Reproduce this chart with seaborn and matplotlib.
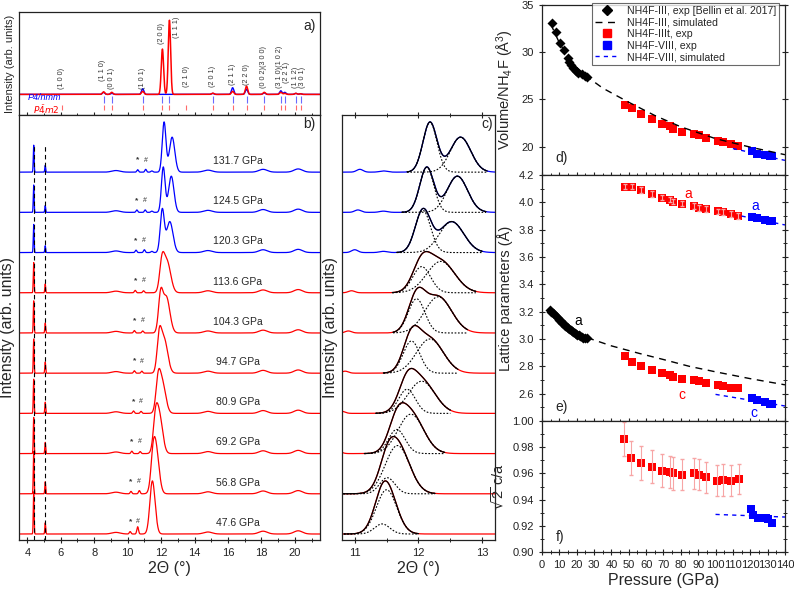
import numpy as np
import matplotlib
matplotlib.use("Agg")
import matplotlib.pyplot as plt
import matplotlib.ticker as mticker
from matplotlib.lines import Line2D
import seaborn as sns

RED = "#ff0000"
BLUE = "#0000ff"

# ---- panel a: simulated patterns + reflections ----
A_POS    = [6.07, 8.56, 9.05, 10.9, 12.08, 12.5, 13.5, 15.09, 16.28, 17.11, 18.17, 19.16, 19.4, 20.06, 20.34]
A_RED_H  = [0.0, 0.025, 0.02, 0.03, 0.44, 0.72, 0.0, 0.012, 0.03, 0.08, 0.02, 0.02, 0.01, 0.01, 0.006]
A_BLUE_H = [0.0, 0.02, 0.01, 0.055, 0.0, 0.0, 0.0, 0.01, 0.065, 0.05, 0.015, 0.035, 0.02, 0.01, 0.006]
A_IN_NMM = [False, True, True, True, True, True, False, True, True, True, True, True, True, True, True]
HKL_TEXT = ["(1 0 0)", "(1 1 0)", "(0 0 1)", "(1 0 1)", "(2 0 0)", "(1 1 1)", "(2 1 0)", "(2 0 1)",
            "(2 1 1)", "(2 2 0)", "(0 0 2)(3 0 0)", "(3 1 0)(1 0 2)", "(2 2 1)", "(1 1 2)", "(3 0 1)"]
HKL_X    = [6.07, 8.5, 9.05, 10.9, 12.05, 12.9, 13.53, 15.09, 16.28, 17.11, 18.13, 19.1, 19.5, 20.06, 20.45]
HKL_Y    = [0.25, 0.33, 0.25, 0.25, 0.69, 0.75, 0.27, 0.27, 0.29, 0.29, 0.26, 0.26, 0.31, 0.26, 0.26]

# ---- panels b/c: measured patterns ----
PRESSURES = [47.6, 56.8, 69.2, 80.9, 94.7, 104.3, 113.6, 120.3, 124.5, 131.7]
PEAK1_POS = [11.43, 11.51, 11.66, 11.82, 11.89, 11.97, 12.05, 12.07, 12.13, 12.18]
PEAK1_H   = [0.25, 0.40, 0.60, 0.60, 0.80, 0.85, 0.65, 1.05, 1.12, 1.24]
PEAK1_W   = [0.12, 0.12, 0.13, 0.13, 0.13, 0.13, 0.14, 0.12, 0.11, 0.11]
PEAK2_POS = [11.50, 11.67, 11.88, 12.05, 12.18, 12.31, 12.35, 12.52, 12.61, 12.66]
PEAK2_H   = [1.10, 1.20, 0.98, 0.80, 0.85, 0.90, 0.78, 0.77, 0.90, 0.87]
PEAK2_W   = [0.16, 0.19, 0.20, 0.21, 0.21, 0.21, 0.22, 0.19, 0.16, 0.16]
FIT_LO    = [10.83, 10.82, 11.15, 11.33, 11.45, 11.60, 11.59, 11.66, 11.74, 11.82]
FIT_HI    = [12.00, 12.26, 12.41, 12.50, 12.62, 12.77, 12.90, 13.00, 13.06, 13.08]
STAR_POS  = [10.15, 10.20, 10.25, 10.35, 10.40, 10.40, 10.45, 10.50, 10.55, 10.60]
HASH_POS  = [10.60, 10.70, 10.75, 10.80, 10.85, 10.90, 10.95, 11.00, 11.05, 11.08]
HASH_H    = [0.18, 0.08, 0.05, 0.05, 0.05, 0.05, 0.05, 0.07, 0.06, 0.07]
SHARP_POS = [4.38, 5.07]
SHARP1_H  = [1.05, 1.05, 0.90, 0.85, 0.85, 0.80, 0.75, 0.70, 0.68, 0.67]
SHARP2_H  = [0.28, 0.30, 0.28, 0.28, 0.28, 0.25, 0.22, 0.17, 0.17, 0.17]
BUMP_POS  = [9.3, 11.45, 14.8, 18.1, 20.2]
BUMP_H    = [0.04, 0.03, 0.05, 0.07, 0.08]
BUMP_W    = [0.25, 0.06, 0.25, 0.25, 0.25]

# ---- panel d: volume ----
III_P   = [5.6, 8.1, 10.4, 12.7, 14.8, 15.7, 16.7, 18.0, 19.6, 20.9, 22.9, 24.8, 25.7]
III_V   = [33.1, 32.1, 30.95, 30.2, 29.4, 29.0, 28.7, 28.3, 28.0, 27.8, 27.7, 27.5, 27.4]
III_SIM_P = [5, 10, 15, 20, 26, 35, 50, 65, 80, 100, 120, 140]
III_SIM_V = [33.0, 31.0, 29.5, 28.4, 27.4, 26.2, 24.7, 23.3, 22.1, 20.85, 19.95, 19.15]
IIIT_P  = [47.8, 51.7, 56.8, 63.5, 69.3, 73.7, 75.7, 80.9, 87.8, 90.7, 94.5, 101.2, 104.1, 108.9, 113.1]
IIIT_V  = [24.44, 24.1, 23.5, 22.9, 22.4, 22.15, 21.9, 21.6, 21.35, 21.2, 20.9, 20.6, 20.45, 20.3, 20.1]
VIII_P  = [120.8, 123.7, 128.5, 131.3, 132.3]
VIII_V  = [19.5, 19.25, 19.15, 19.05, 19.0]
VIII_SIM_P = [110, 120, 130, 140]
VIII_SIM_V = [19.8, 19.4, 18.95, 18.55]

# ---- panel e: lattice parameters ----
III_A_P = [4.6, 5.4, 6.2, 7.0, 8.1, 9.0, 10.0, 10.8, 11.7, 12.6, 13.5, 14.3, 15.0, 15.7,
           16.5, 17.3, 18.0, 18.8, 19.6, 20.4, 21.2, 22.0, 22.9, 23.7, 24.8, 25.7]
III_A   = [3.21, 3.20, 3.19, 3.18, 3.165, 3.152, 3.14, 3.13, 3.118, 3.108, 3.097, 3.09, 3.083, 3.076,
           3.068, 3.06, 3.053, 3.046, 3.038, 3.032, 3.026, 3.02, 3.015, 3.01, 3.006, 3.004]
III_SIM_A_P = [26, 40, 56, 70, 85, 100, 120, 140]
III_SIM_A   = [3.01, 2.95, 2.895, 2.85, 2.80, 2.76, 2.71, 2.665]
IIIT_A  = [4.115, 4.115, 4.09, 4.06, 4.035, 4.02, 4.005, 3.99, 3.975, 3.96, 3.95, 3.935, 3.93, 3.915, 3.90]
IIIT_C  = [2.873, 2.83, 2.80, 2.775, 2.75, 2.735, 2.72, 2.71, 2.70, 2.69, 2.68, 2.665, 2.655, 2.645, 2.64]
VIII_A  = [3.89, 3.885, 3.87, 3.865, 3.865]
VIII_C  = [2.569, 2.552, 2.537, 2.527, 2.525]
VIII_SIM_A_P = [115, 140]
VIII_SIM_A   = [3.90, 3.835]
VIII_SIM_C_P = [100, 140]
VIII_SIM_C   = [2.595, 2.51]

# ---- panel f: sqrt(2) c/a ----
IIIT_R_P = [47.4, 51.3, 56.8, 63.5, 69.3, 73.7, 75.7, 80.8, 87.6, 90.6, 94.5, 100.6, 104.1, 108.9, 113.4]
IIIT_R   = [0.986, 0.9715, 0.9677, 0.965, 0.962, 0.961, 0.960, 0.959, 0.960, 0.959, 0.957, 0.9545, 0.955, 0.9545, 0.9555]
IIIT_R_ERR = [0.013, 0.013, 0.013, 0.0125, 0.0125, 0.0125, 0.0125, 0.012, 0.012, 0.012, 0.012, 0.012, 0.012, 0.012, 0.0115]
VIII_R_P = [120.2, 121.7, 124.2, 128.8, 130.3, 132.8]
VIII_R   = [0.9328, 0.928, 0.926, 0.926, 0.9255, 0.922]
VIII_SIM_R_P = [100, 140]
VIII_SIM_R   = [0.9287, 0.9267]


def gauss(x, pos, h, w):
    return h * np.exp(-0.5 * ((x - pos) / w) ** 2)


def pattern(x, i, blue):
    y = np.zeros_like(x)
    y += gauss(x, SHARP_POS[0], SHARP1_H[i], 0.025)
    y += gauss(x, SHARP_POS[1], SHARP2_H[i], 0.025)
    y += gauss(x, STAR_POS[i], 0.06, 0.05)
    y += gauss(x, HASH_POS[i], HASH_H[i], 0.05)
    for bp, bh, bw in zip(BUMP_POS, BUMP_H, BUMP_W):
        if bw < 0.1 and not blue:
            continue
        y += gauss(x, bp, bh, bw)
    y += gauss(x, PEAK1_POS[i], PEAK1_H[i], PEAK1_W[i])
    y += gauss(x, PEAK2_POS[i], PEAK2_H[i], PEAK2_W[i])
    return y


sns.set_style("ticks")
plt.rcParams["font.family"] = ["Liberation Sans", "DejaVu Sans"]
plt.rcParams["mathtext.default"] = "regular"
plt.rcParams["axes.linewidth"] = 0.9

fig = plt.figure(figsize=(7.94, 5.90), dpi=100)
ax_a = fig.add_axes([0.0239, 0.8051, 0.379, 0.1746])
ax_b = fig.add_axes([0.0239, 0.0847, 0.379, 0.7203])
ax_c = fig.add_axes([0.4307, 0.0847, 0.1927, 0.7203])
ax_d = fig.add_axes([0.6826, 0.7034, 0.306, 0.2881])
ax_e = fig.add_axes([0.6826, 0.2864, 0.306, 0.4169])
ax_f = fig.add_axes([0.6826, 0.0644, 0.306, 0.222])

for ax in fig.axes:
    for s in ax.spines.values():
        s.set_color("#222222")
    ax.tick_params(which="major", direction="inout", length=5, width=0.8, labelsize=8, colors="#222222")
    ax.tick_params(which="minor", direction="inout", length=3, width=0.7)

# ---------- a ----------
xa = np.linspace(3.5, 21.5, 4000)
base_a = 0.2
y_red = base_a + sum(gauss(xa, p, h, 0.07) for p, h in zip(A_POS, A_RED_H))
y_blue = base_a + sum(gauss(xa, p, h, 0.07) for p, h in zip(A_POS, A_BLUE_H))
ax_a.plot(xa, y_blue, color=BLUE, lw=1.0)
ax_a.plot(xa, y_red, color=RED, lw=1.1)
nmm_pos = [p for p, keep in zip(A_POS, A_IN_NMM) if keep]
ax_a.vlines(nmm_pos, 0.12, 0.18, color="#6a6aff", lw=0.8)
ax_a.vlines(A_POS, 0.05, 0.10, color="#ff6a6a", lw=0.8)
for txt, x, y in zip(HKL_TEXT, HKL_X, HKL_Y):
    ax_a.text(x, y, txt, rotation=90, ha="center", va="bottom", fontsize=5.2, color="#333333")
ax_a.text(4.05, 0.165, "P4/nmm", color=BLUE, style="italic", fontsize=6.5, va="center")
ax_a.text(4.35, 0.055, r"$\mathit{P}\bar{\mathit{4}}\mathit{m2}$", color=RED, fontsize=6.5, va="center")
ax_a.text(0.985, 0.93, "a)", transform=ax_a.transAxes, ha="right", va="top", fontsize=10)
ax_a.set_xlim(3.5, 21.5)
ax_a.set_ylim(0, 1)
ax_a.set_yticks([])
ax_a.xaxis.set_major_locator(mticker.MultipleLocator(2))
ax_a.xaxis.set_minor_locator(mticker.MultipleLocator(1))
ax_a.tick_params(axis="x", labelbottom=False)
ax_a.set_ylabel("Intensity (arb. units)", fontsize=8, labelpad=3)

# ---------- b ----------
xb = np.linspace(3.5, 21.5, 6000)
for i, p in enumerate(PRESSURES):
    base = 0.15 + i * 1.0
    blue = p > 115
    color = BLUE if blue else RED
    ax_b.plot(xb, base + pattern(xb, i, blue), color=color, lw=0.9)
    ax_b.text(16.6, base + 0.28, f"{p:.1f} GPa", ha="center", va="center", fontsize=7.5)
    ax_b.text(STAR_POS[i], base + 0.3, "*", ha="center", va="center", fontsize=6, fontweight="bold", color="#333333")
    ax_b.text(HASH_POS[i], base + 0.3, "#", ha="center", va="center", fontsize=5, color="#333333")
ax_b.vlines(SHARP_POS, 0, 9.8, colors="k", linestyles=(0, (4, 3)), lw=0.8)
ax_b.set_xlim(3.5, 21.5)
ax_b.set_ylim(0, 10.57)
ax_b.set_yticks([])
ax_b.xaxis.set_major_locator(mticker.MultipleLocator(2))
ax_b.xaxis.set_minor_locator(mticker.MultipleLocator(1))
ax_b.set_xlabel("2Θ (°)", fontsize=11.5, labelpad=2)
ax_b.set_ylabel("Intensity (arb. units)", fontsize=11.5, labelpad=3)
ax_b.text(0.985, 0.995, "b)", transform=ax_b.transAxes, ha="right", va="top", fontsize=10)

# ---------- c ----------
xc = np.linspace(10.8, 13.2, 1500)
for i, p in enumerate(PRESSURES):
    base = 0.15 + i * 1.0
    blue = p > 115
    color = BLUE if blue else RED
    ax_c.plot(xc, base + pattern(xc, i, blue), color=color, lw=0.9)
    xf = np.linspace(FIT_LO[i], FIT_HI[i], 400)
    c1 = gauss(xf, PEAK1_POS[i], PEAK1_H[i], PEAK1_W[i])
    c2 = gauss(xf, PEAK2_POS[i], PEAK2_H[i], PEAK2_W[i])
    ax_c.plot(xf, base + c1, color="k", lw=0.8, ls=(0, (1.5, 1.5)))
    ax_c.plot(xf, base + c2, color="k", lw=0.8, ls=(0, (1.5, 1.5)))
    ax_c.plot(xf, base + c1 + c2, color="k", lw=0.9)
ax_c.set_xlim(10.8, 13.2)
ax_c.set_ylim(0, 10.57)
ax_c.set_yticks([])
ax_c.xaxis.set_major_locator(mticker.MultipleLocator(1))
ax_c.xaxis.set_minor_locator(mticker.MultipleLocator(0.5))
ax_c.tick_params(axis="x", which="both", top=True)
ax_c.set_xlabel("2Θ (°)", fontsize=11.5, labelpad=2)
ax_c.set_ylabel("Intensity (arb. units)", fontsize=11.5, labelpad=3)
ax_c.text(0.985, 0.995, "c)", transform=ax_c.transAxes, ha="right", va="top", fontsize=10)

# ---------- d ----------
sns.lineplot(x=III_SIM_P, y=III_SIM_V, color="k", lw=1.0, ls=(0, (5, 4)), ax=ax_d)
sns.lineplot(x=VIII_SIM_P, y=VIII_SIM_V, color=BLUE, lw=1.0, ls=(0, (3, 3)), ax=ax_d)
sns.scatterplot(x=III_P, y=III_V, marker="D", color="k", s=26, linewidth=0, ax=ax_d)
sns.scatterplot(x=IIIT_P, y=IIIT_V, marker="s", color=RED, s=34, linewidth=0, ax=ax_d)
sns.scatterplot(x=VIII_P, y=VIII_V, marker="s", color=BLUE, s=34, linewidth=0, ax=ax_d)
ax_d.set_ylim(17, 35)
ax_d.set_yticks([20, 25, 30, 35])
ax_d.set_ylabel("Volume/NH$_4$F (Å$^3$)", fontsize=10.5)
handles = [
    Line2D([], [], marker="D", color="k", ls="none", markersize=5),
    Line2D([], [], color="k", ls=(0, (5, 4)), lw=1.0),
    Line2D([], [], marker="s", color=RED, ls="none", markersize=6),
    Line2D([], [], marker="s", color=BLUE, ls="none", markersize=6),
    Line2D([], [], color=BLUE, ls=(0, (3, 3)), lw=1.0),
]
labels = ["NH4F-III, exp [Bellin et al. 2017]", "NH4F-III, simulated", "NH4F-IIIt, exp",
          "NH4F-VIII, exp", "NH4F-VIII, simulated"]
leg = ax_d.legend(handles, labels, loc="upper right", fontsize=7.6, frameon=True, fancybox=False,
                  edgecolor="#444444", borderpad=0.3, labelspacing=0.15, handlelength=2.2,
                  handletextpad=0.8, borderaxespad=0.1, bbox_to_anchor=(0.98, 1.02))
leg.get_frame().set_linewidth(0.8)
ax_d.text(0.055, 0.06, "d)", transform=ax_d.transAxes, fontsize=10, va="bottom")

# ---------- e ----------
sns.lineplot(x=III_SIM_A_P, y=III_SIM_A, color="k", lw=1.0, ls=(0, (5, 4)), ax=ax_e)
sns.lineplot(x=VIII_SIM_A_P, y=VIII_SIM_A, color=BLUE, lw=1.0, ls=(0, (3, 3)), ax=ax_e)
sns.lineplot(x=VIII_SIM_C_P, y=VIII_SIM_C, color=BLUE, lw=1.0, ls=(0, (3, 3)), ax=ax_e)
ax_e.errorbar(IIIT_P, IIIT_A, yerr=0.02, fmt="none", ecolor="#f7a5a5", elinewidth=0.8, capsize=1.5)
sns.scatterplot(x=III_A_P, y=III_A, marker="D", color="k", s=26, linewidth=0, ax=ax_e)
sns.scatterplot(x=IIIT_P, y=IIIT_A, marker="s", color=RED, s=34, linewidth=0, ax=ax_e)
sns.scatterplot(x=IIIT_P, y=IIIT_C, marker="s", color=RED, s=34, linewidth=0, ax=ax_e)
sns.scatterplot(x=VIII_P, y=VIII_A, marker="s", color=BLUE, s=34, linewidth=0, ax=ax_e)
sns.scatterplot(x=VIII_P, y=VIII_C, marker="s", color=BLUE, s=34, linewidth=0, ax=ax_e)
ax_e.text(20.9, 3.13, "a", color="k", fontsize=10, ha="center", va="center")
ax_e.text(84.3, 4.065, "a", color=RED, fontsize=10, ha="center", va="center")
ax_e.text(122.7, 3.975, "a", color=BLUE, fontsize=10, ha="center", va="center")
ax_e.text(80.8, 2.59, "c", color=RED, fontsize=10, ha="center", va="center")
ax_e.text(122.3, 2.46, "c", color=BLUE, fontsize=10, ha="center", va="center")
ax_e.set_ylim(2.4, 4.2)
ax_e.set_yticks(np.arange(2.6, 4.21, 0.2))
ax_e.yaxis.set_major_formatter(mticker.FormatStrFormatter("%.1f"))
ax_e.yaxis.set_minor_locator(mticker.MultipleLocator(0.1))
ax_e.set_ylabel("Lattice parameters (Å)", fontsize=10.5)
ax_e.text(0.055, 0.03, "e)", transform=ax_e.transAxes, fontsize=10, va="bottom")

# ---------- f ----------
sns.lineplot(x=VIII_SIM_R_P, y=VIII_SIM_R, color=BLUE, lw=1.0, ls=(0, (3, 3)), ax=ax_f)
ax_f.errorbar(IIIT_R_P, IIIT_R, yerr=IIIT_R_ERR, fmt="none", ecolor="#f7a5a5", elinewidth=0.8, capsize=1.5)
sns.scatterplot(x=IIIT_R_P, y=IIIT_R, marker="s", color=RED, s=34, linewidth=0, ax=ax_f)
sns.scatterplot(x=VIII_R_P, y=VIII_R, marker="s", color=BLUE, s=34, linewidth=0, ax=ax_f)
ax_f.set_ylim(0.90, 1.00)
ax_f.set_yticks(np.arange(0.90, 1.001, 0.02))
ax_f.yaxis.set_major_formatter(mticker.FormatStrFormatter("%.2f"))
ax_f.yaxis.set_minor_locator(mticker.MultipleLocator(0.01))
ax_f.set_ylabel(r"$\sqrt{2}$ c/a", fontsize=10.5)
ax_f.set_xlabel("Pressure (GPa)", fontsize=11.5, labelpad=2)
ax_f.text(0.055, 0.06, "f)", transform=ax_f.transAxes, fontsize=10, va="bottom")

for ax in (ax_d, ax_e, ax_f):
    ax.set_xlim(0, 140)
    ax.xaxis.set_major_locator(mticker.MultipleLocator(10))
    ax.xaxis.set_minor_locator(mticker.MultipleLocator(5))
    ax.tick_params(axis="y", which="both", right=True)
    if ax is not ax_f:
        ax.tick_params(axis="x", labelbottom=False)
        ax.set_xlabel("")
fig.align_ylabels([ax_d, ax_e, ax_f])

fig.savefig("out.png", dpi=100)
